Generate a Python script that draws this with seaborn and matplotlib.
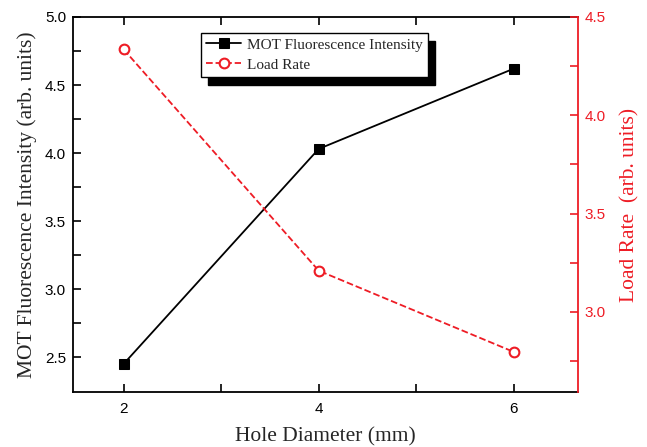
import matplotlib
matplotlib.use("Agg")
import matplotlib.pyplot as plt
import seaborn as sns
import pandas as pd
import numpy as np
from matplotlib.ticker import MultipleLocator, FixedLocator

hole_diameter = [2, 4, 6]
mot_intensity = [2.45, 4.03, 4.62]
load_rate = [4.335, 3.21, 2.797]

sns.set_theme(style="ticks")
plt.rcParams['font.family'] = ['Liberation Sans', 'DejaVu Sans']

df = pd.DataFrame({"d": hole_diameter, "mot": mot_intensity, "load": load_rate})

fig = plt.figure(figsize=(6.47, 4.47), dpi=100)
ax = fig.add_axes([73/647, 1-392/447, 505/647, 375/447])
ax2 = ax.twinx()

red = "#ee1c25"
sns.lineplot(data=df, x="d", y="mot", ax=ax, color="black", marker="s",
             markersize=7, linewidth=1.3, markeredgecolor="black",
             label="MOT Fluorescence Intensity", legend=False)
sns.lineplot(data=df, x="d", y="load", ax=ax2, color=red, marker="o",
             markersize=7, linewidth=1.3, linestyle="--", markerfacecolor="white",
             markeredgecolor=red, markeredgewidth=1.5,
             label="Load Rate", legend=False)

ax.set_xlim(1.48, 6.66)
ax.set_ylim(2.243, 5.0)
ax2.set_ylim(2.593, 4.5)

ax.xaxis.set_major_locator(MultipleLocator(2))
ax.xaxis.set_minor_locator(MultipleLocator(1))
ax.yaxis.set_major_locator(MultipleLocator(0.5))
ax.yaxis.set_minor_locator(FixedLocator(np.arange(2.75, 5.0, 0.5)))
ax2.yaxis.set_major_locator(MultipleLocator(0.5))
ax2.yaxis.set_minor_locator(MultipleLocator(0.25))

ax.tick_params(axis="both", which="both", direction="in", top=True, right=False,
               colors="black", labelsize=11, width=1.2, length=6)
ax.tick_params(axis="x", which="both", pad=7)
ax.tick_params(axis="y", which="both", pad=5)
ax2.tick_params(axis="y", which="both", direction="in", colors=red, labelsize=11,
                width=1.2, length=6, pad=5)
for s in ["left", "bottom", "top"]:
    ax.spines[s].set_linewidth(1.3)
    ax.spines[s].set_color("black")
ax.spines["right"].set_visible(False)
for s in ["left", "bottom", "top"]:
    ax2.spines[s].set_visible(False)
ax2.spines["right"].set_visible(True)
ax2.spines["right"].set_color(red)
ax2.spines["right"].set_linewidth(1.3)

ax.set_xlabel("Hole Diameter (mm)", fontsize=15.5, family=["Liberation Serif"], labelpad=8)
ax.set_ylabel("MOT Fluorescence Intensity (arb. units)", fontsize=15.5,
              family=["Liberation Serif"], labelpad=6)
ax2.set_ylabel("Load Rate  (arb. units)", fontsize=15.5, color=red,
               family=["Liberation Serif"], labelpad=10)

h1, l1 = ax.get_legend_handles_labels()
h2, l2 = ax2.get_legend_handles_labels()
leg = ax2.legend(h1 + h2, l1 + l2, loc="upper left", bbox_to_anchor=(0.253, 0.958),
                 borderaxespad=0, frameon=True, fancybox=False,
                 shadow={"color": "black", "alpha": 1, "ox": 5, "oy": -6},
                 prop={"family": "Liberation Serif", "size": 11},
                 handlelength=2.3, labelspacing=0.4, borderpad=0.35, handletextpad=0.4)
leg.get_frame().set_edgecolor("black")
leg.get_frame().set_linewidth(1.0)

fig.savefig("out.png", dpi=100)
